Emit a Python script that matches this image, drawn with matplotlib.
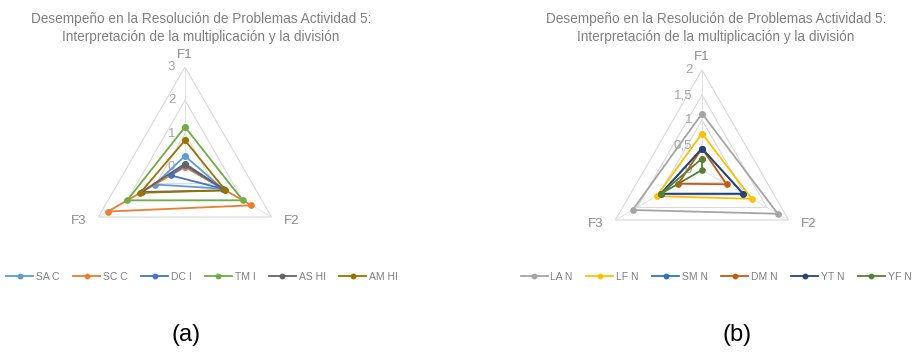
import numpy as np
import matplotlib
matplotlib.use("Agg")
import matplotlib.pyplot as plt
from matplotlib.lines import Line2D

plt.rcParams['font.family'] = ['Liberation Sans', 'DejaVu Sans']

title = "Desempeño en la Resolución de Problemas Actividad 5:\nInterpretación de la multiplicación y la división"
axes_labels = ["F1", "F2", "F3"]

# chart (a)
names_a = ["SA C", "SC C", "DC I", "TM I", "AS HI", "AM HI"]
vals_a = [
    [0.33, 1.30, 1.05],
    [0.00, 2.30, 2.67],
    [0.05, 1.30, 0.50],
    [1.20, 2.00, 2.00],
    [0.10, 1.40, 1.50],
    [0.80, 1.40, 1.55],
]
colors_a = ["#5B9BD5", "#ED7D31", "#4472C4", "#70AD47", "#636363", "#997300"]
levels_a = [0, 1, 2, 3]
ticklabels_a = ["0", "1", "2", "3"]

# chart (b)
names_b = ["LA N", "LF N", "SM N", "DM N", "YT N", "YF N"]
vals_b = [
    [1.13, 1.75, 1.60],
    [0.73, 1.15, 1.05],
    [0.43, 0.95, 0.95],
    [0.43, 0.57, 0.55],
    [0.43, 0.95, 0.95],
    [0.23, 0.00, 0.95],
]
colors_b = ["#A5A5A5", "#FFC000", "#2E75B6", "#C55A11", "#264478", "#548235"]
levels_b = [0, 0.5, 1, 1.5, 2]
ticklabels_b = ["0", "0,5", "1", "1,5", "2"]

W, H = 914, 353
fig = plt.figure(figsize=(W / 100, H / 100), dpi=100)

grey = "#8C8C8C"
theta = np.linspace(0, 2 * np.pi, 3, endpoint=False)
theta_c = np.append(theta, theta[0])


def radar(cx, cy, rad, names, vals, colors, levels, ticklabels, tx, leg_x, tag, tag_x):
    ax = fig.add_axes([(cx - rad) / W, 1 - (cy + rad) / H, 2 * rad / W, 2 * rad / H],
                      projection='polar')
    ax.set_theta_offset(np.pi / 2)
    ax.set_theta_direction(-1)
    ax.set_ylim(0, levels[-1])
    ax.set_axis_off()
    # grid triangles and spokes
    for lv in levels[1:]:
        ax.plot(theta_c, [lv] * 4, color="#D9D9D9", lw=0.8, zorder=1)
    for t in theta:
        ax.plot([t, t], [0, levels[-1]], color="#E3E3E3", lw=0.7, zorder=1)
    for lv, lab in zip(levels, ticklabels):
        ax.annotate(lab, xy=(0, lv), xytext=(-7, 0), textcoords='offset points',
                    ha='right', va='center', fontsize=9.5, color="#A6A6A6")
    offs = [(0, 9), (9, -3), (-9, -3)]
    has = ['center', 'left', 'right']
    for t, lab, o, h in zip(theta, axes_labels, offs, has):
        ax.annotate(lab, xy=(t, levels[-1]), xytext=o, textcoords='offset points',
                    ha=h, va='center', fontsize=9.5, color=grey)
    handles = []
    for n, v, c in zip(names, vals, colors):
        ax.plot(theta_c, v + v[:1], color=c, lw=1.3, marker='o', ms=3.8,
                mfc=c, mec=c, label=n, zorder=3, clip_on=False)
        handles.append(Line2D([], [], color=c, lw=1.3, marker='o', ms=3.2, mfc=c, mec=c))
    fig.text(tx / W, 1 - 28 / H, title, ha='center', va='center', fontsize=9.8,
             color="#808080", linespacing=1.35)
    fig.legend(handles, names, loc='center', bbox_to_anchor=(leg_x / W, 1 - 277 / H),
               ncol=6, frameon=False, fontsize=7.5, labelcolor="#7F7F7F",
               handlelength=2.6, handletextpad=0.25, columnspacing=1.3)
    fig.text(tag_x / W, 1 - 335 / H, tag, ha='center', va='center', fontsize=17, color="black")


radar(185, 167, 100, names_a, vals_a, colors_a, levels_a, ticklabels_a, 201, 202, "(a)", 186)
radar(702, 170, 100, names_b, vals_b, colors_b, levels_b, ticklabels_b, 716, 716, "(b)", 737)

fig.savefig("out.png", dpi=100)
